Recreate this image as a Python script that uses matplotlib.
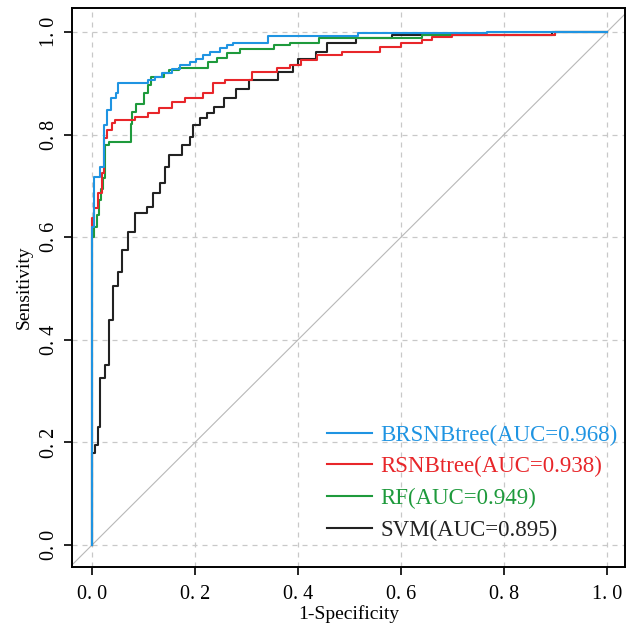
import numpy as np
from matplotlib import pyplot as plt

plt.rcParams["font.family"] = ["Liberation Serif", "DejaVu Serif"]

# ROC step vertices (1-specificity, sensitivity)
brsnb_fpr = [0, 0, 0.004, 0.004, 0.016, 0.016, 0.023, 0.023, 0.029, 0.029, 0.037, 0.037,
             0.047, 0.047, 0.050, 0.050, 0.109, 0.109, 0.122, 0.122, 0.136, 0.136, 0.155, 0.155,
             0.171, 0.171, 0.190, 0.190, 0.202, 0.202, 0.216, 0.216, 0.229, 0.229, 0.249, 0.249,
             0.262, 0.262, 0.274, 0.274, 0.342, 0.342, 0.517, 0.517, 0.767, 0.767, 1.0]
brsnb_tpr = [0, 0.620, 0.620, 0.717, 0.717, 0.737, 0.737, 0.819, 0.819, 0.848, 0.848, 0.871,
             0.871, 0.881, 0.881, 0.900, 0.900, 0.906, 0.906, 0.912, 0.912, 0.920, 0.920, 0.928,
             0.928, 0.936, 0.936, 0.942, 0.942, 0.948, 0.948, 0.955, 0.955, 0.961, 0.961, 0.969,
             0.969, 0.975, 0.975, 0.979, 0.979, 0.992, 0.992, 0.998, 0.998, 1.0, 1.0]

rsnb_fpr = [0, 0, 0.003, 0.003, 0.012, 0.012, 0.019, 0.019, 0.023, 0.023, 0.029, 0.029,
            0.039, 0.039, 0.045, 0.045, 0.084, 0.084, 0.109, 0.109, 0.130, 0.130, 0.155, 0.155,
            0.180, 0.180, 0.215, 0.215, 0.235, 0.235, 0.258, 0.258, 0.310, 0.310, 0.359, 0.359,
            0.384, 0.384, 0.405, 0.405, 0.437, 0.437, 0.485, 0.485, 0.559, 0.559, 0.600, 0.600,
            0.640, 0.640, 0.660, 0.660, 0.700, 0.700, 0.900, 0.900, 1.0]
rsnb_tpr = [0, 0.637, 0.637, 0.657, 0.657, 0.686, 0.686, 0.725, 0.725, 0.793, 0.793, 0.809,
            0.809, 0.822, 0.822, 0.828, 0.828, 0.834, 0.834, 0.842, 0.842, 0.853, 0.853, 0.864,
            0.864, 0.871, 0.871, 0.881, 0.881, 0.900, 0.900, 0.906, 0.906, 0.922, 0.922, 0.930,
            0.930, 0.936, 0.936, 0.945, 0.945, 0.955, 0.955, 0.962, 0.962, 0.971, 0.971, 0.978,
            0.978, 0.984, 0.984, 0.990, 0.990, 0.994, 0.994, 1.0, 1.0]

rf_fpr = [0, 0, 0.003, 0.003, 0.009, 0.009, 0.014, 0.014, 0.017, 0.017, 0.021, 0.021,
          0.026, 0.026, 0.033, 0.033, 0.076, 0.076, 0.078, 0.078, 0.085, 0.085, 0.101, 0.101,
          0.109, 0.109, 0.114, 0.114, 0.140, 0.140, 0.150, 0.150, 0.169, 0.169, 0.225, 0.225,
          0.243, 0.243, 0.262, 0.262, 0.287, 0.287, 0.353, 0.353, 0.384, 0.384, 0.440, 0.440,
          0.640, 0.640, 0.900, 0.900, 1.0]
rf_tpr = [0, 0.600, 0.600, 0.620, 0.620, 0.643, 0.643, 0.672, 0.672, 0.695, 0.695, 0.715,
          0.715, 0.780, 0.780, 0.786, 0.786, 0.820, 0.820, 0.845, 0.845, 0.860, 0.860, 0.881,
          0.881, 0.897, 0.897, 0.913, 0.913, 0.920, 0.920, 0.926, 0.926, 0.930, 0.930, 0.942,
          0.942, 0.949, 0.949, 0.959, 0.959, 0.967, 0.967, 0.975, 0.975, 0.978, 0.978, 0.988,
          0.988, 0.994, 0.994, 1.0, 1.0]

svm_fpr = [0, 0, 0.006, 0.006, 0.012, 0.012, 0.016, 0.016, 0.025, 0.025, 0.033, 0.033,
           0.041, 0.041, 0.051, 0.051, 0.058, 0.058, 0.070, 0.070, 0.083, 0.083, 0.106, 0.106,
           0.118, 0.118, 0.131, 0.131, 0.142, 0.142, 0.150, 0.150, 0.174, 0.174, 0.190, 0.190,
           0.196, 0.196, 0.210, 0.210, 0.223, 0.223, 0.237, 0.237, 0.256, 0.256, 0.280, 0.280,
           0.305, 0.305, 0.361, 0.361, 0.390, 0.390, 0.400, 0.400, 0.435, 0.435, 0.457, 0.457,
           0.512, 0.512, 0.582, 0.582, 0.893, 0.893, 1.0]
svm_tpr = [0, 0.179, 0.179, 0.195, 0.195, 0.230, 0.230, 0.325, 0.325, 0.350, 0.350, 0.439,
           0.439, 0.504, 0.504, 0.533, 0.533, 0.575, 0.575, 0.611, 0.611, 0.647, 0.647, 0.659,
           0.659, 0.686, 0.686, 0.705, 0.705, 0.737, 0.737, 0.760, 0.760, 0.780, 0.780, 0.796,
           0.796, 0.819, 0.819, 0.832, 0.832, 0.842, 0.842, 0.854, 0.854, 0.871, 0.871, 0.890,
           0.890, 0.906, 0.906, 0.922, 0.922, 0.936, 0.936, 0.947, 0.947, 0.962, 0.962, 0.978,
           0.978, 0.988, 0.988, 0.994, 0.994, 1.0, 1.0]

labels = ["BRSNBtree(AUC=0.968)", "RSNBtree(AUC=0.938)", "RF(AUC=0.949)", "SVM(AUC=0.895)"]
colors = ["#1f94e2", "#e8262a", "#1e9a3c", "#222222"]
ticks = [0, 0.2, 0.4, 0.6, 0.8, 1.0]
tick_labels = ["0. 0", "0. 2", "0. 4", "0. 6", "0. 8", "1. 0"]

fig = plt.figure(figsize=(6.35, 6.27), dpi=100)
ax = fig.add_axes([0.1134, 0.0957, 0.8706, 0.8915])

ax.plot([-0.1, 1.1], [-0.1, 1.1], color="#b8b8b8", linewidth=0.8, zorder=1)

curves = [(brsnb_fpr, brsnb_tpr), (rsnb_fpr, rsnb_tpr), (rf_fpr, rf_tpr), (svm_fpr, svm_tpr)]
for (fpr, tpr), lab, col in zip(curves[::-1], labels[::-1], colors[::-1]):
    ax.plot(fpr, tpr, color=col, linewidth=1.5, label=lab, zorder=3)

ax.set_xlim(-0.039, 1.035)
ax.set_ylim(-0.043, 1.047)
ax.set_xticks(ticks)
ax.set_xticklabels(tick_labels)
ax.set_yticks(ticks)
ax.set_yticklabels(tick_labels, rotation=90, va="center")
ax.tick_params(direction="out", length=6, width=1.2, labelsize=14.5)
ax.tick_params(axis="x", pad=7)
ax.grid(True, linestyle=(0, (4, 4)), color="#c8c8c8", linewidth=0.9)
ax.set_axisbelow(True)
for s in ax.spines.values():
    s.set_linewidth(1.4)

ax.set_xlabel("1-Specificity", fontsize=14, labelpad=1)
ax.set_ylabel("Sensitivity", fontsize=14, labelpad=5)

handles, labs = ax.get_legend_handles_labels()
leg = ax.legend(handles[::-1], labs[::-1], loc="lower right", bbox_to_anchor=(0.987, 0.047),
                frameon=False, fontsize=16.5, handlelength=1.96, handletextpad=0.35,
                labelspacing=0.46, borderpad=0, borderaxespad=0, labelcolor="linecolor")

fig.savefig("out.png", dpi=100)
